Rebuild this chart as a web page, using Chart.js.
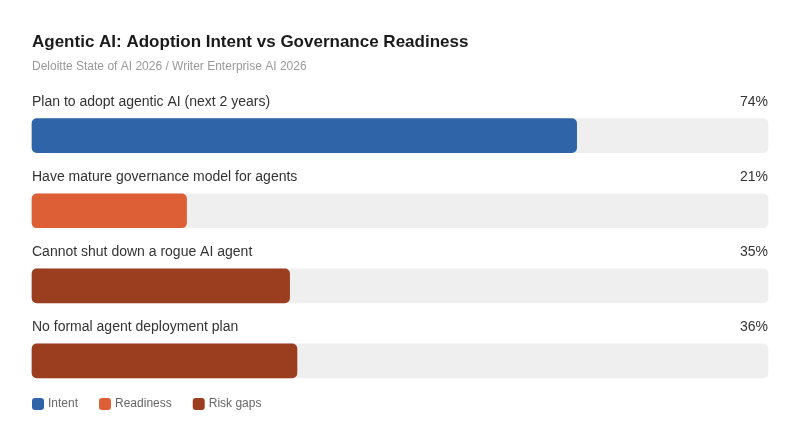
<!DOCTYPE html>
<html>
<head>
<meta charset="utf-8">
<script src="https://cdn.jsdelivr.net/npm/chart.js@4"></script>
<style>
  html, body { margin: 0; padding: 0; background: #fff; }
  #wrap { width: 800px; height: 442px; }
</style>
</head>
<body>
<div id="wrap"><canvas id="grafica"></canvas></div>
<script>
// datos
const categorias = [
    'Plan to adopt agentic AI (next 2 years)',
    'Have mature governance model for agents',
    'Cannot shut down a rogue AI agent',
    'No formal agent deployment plan'
];
const valores = [74, 21, 35, 36];
const grupos = ['Intent', 'Readiness', 'Risk gaps', 'Risk gaps'];
const nombresGrupo = ['Intent', 'Readiness', 'Risk gaps'];
const coloresGrupo = { 'Intent': '#3064a9', 'Readiness': '#dc5f35', 'Risk gaps': '#9b3e20' };

const FUENTE = '"Liberation Sans", Arial, sans-serif';
Chart.defaults.font.family = FUENTE;

// etiquetas encima de cada barra
const etiquetas = {
    id: 'etiquetas',
    afterDatasetsDraw(chart) {
        const ctx = chart.ctx;
        const area = chart.chartArea;
        const y = chart.scales.y;
        ctx.save();
        ctx.font = '14px ' + FUENTE;
        ctx.fillStyle = '#333333';
        ctx.textBaseline = 'middle';
        categorias.forEach((c, i) => {
            const py = y.getPixelForValue(i) - 33.5;
            ctx.textAlign = 'left';
            ctx.fillText(c, area.left, py);
            ctx.textAlign = 'right';
            ctx.fillText(valores[i] + '%', area.right, py);
        });
        ctx.restore();
    }
};

// leyenda propia, pegada al borde izquierdo
const leyenda = {
    id: 'leyenda',
    afterDraw(chart) {
        const ctx = chart.ctx;
        let x = chart.chartArea.left;
        const cy = 404;
        ctx.save();
        ctx.font = '12px ' + FUENTE;
        ctx.textBaseline = 'middle';
        ctx.textAlign = 'left';
        nombresGrupo.forEach(g => {
            ctx.fillStyle = coloresGrupo[g];
            ctx.beginPath();
            ctx.roundRect(x, cy - 6, 12, 12, 3);
            ctx.fill();
            ctx.fillStyle = '#666666';
            ctx.fillText(g, x + 16, cy);
            x += 16 + ctx.measureText(g).width + 21;
        });
        ctx.restore();
    }
};

const ctx = document.getElementById('grafica').getContext('2d');
new Chart(ctx, {
    type: 'bar',
    data: {
        datasets: [{
            label: 'Valor',
            data: valores.map((v, i) => ({ x: v, y: i })),
            backgroundColor: grupos.map(g => coloresGrupo[g]),
            borderRadius: 5,
            borderSkipped: false,
            barThickness: 34,
            grouped: false,
            clip: false
        }, {
            label: 'Fondo',
            data: valores.map((v, i) => ({ x: 100, y: i })),
            backgroundColor: '#efefef',
            borderRadius: 5,
            borderSkipped: false,
            barThickness: 34,
            grouped: false,
            clip: false
        }]
    },
    options: {
        indexAxis: 'y',
        responsive: true,
        maintainAspectRatio: false,
        animation: false,
        layout: { padding: { left: 32, right: 32, top: 32, bottom: 39 } },
        scales: {
            x: { type: 'linear', min: 0, max: 100, display: false },
            y: { type: 'linear', min: -0.581, max: 3.317, reverse: true, display: false }
        },
        plugins: {
            tooltip: { enabled: false },
            legend: { display: false },
            title: {
                display: true,
                text: 'Agentic AI: Adoption Intent vs Governance Readiness',
                align: 'start',
                color: '#1a1a1a',
                font: { size: 17, weight: 'bold' },
                padding: { top: 0, bottom: 7 }
            },
            subtitle: {
                display: true,
                text: 'Deloitte State of AI 2026 / Writer Enterprise AI 2026',
                align: 'start',
                color: '#999999',
                font: { size: 12 },
                padding: { top: 0, bottom: 0 }
            }
        }
    },
    plugins: [etiquetas, leyenda]
});
</script>
</body>
</html>
